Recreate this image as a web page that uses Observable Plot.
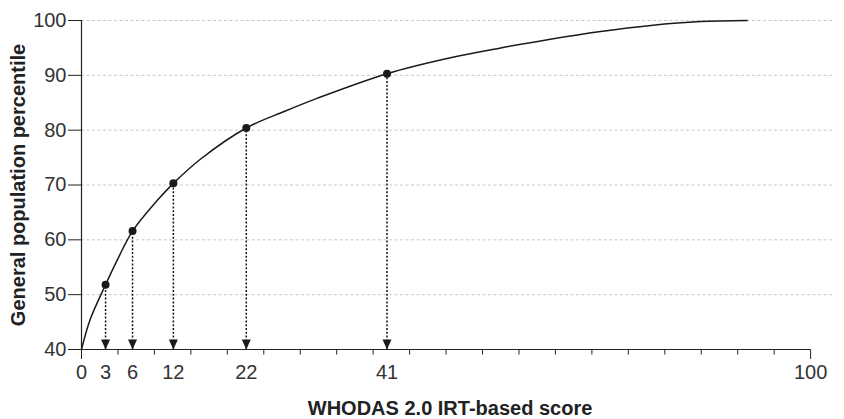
<!DOCTYPE html>
<html>
<head>
<meta charset="utf-8">
<script src="https://cdn.jsdelivr.net/npm/d3@7"></script>
<script src="https://cdn.jsdelivr.net/npm/@observablehq/plot@0.6"></script>
<style>
  html, body { margin: 0; padding: 0; background: #fff; }
  #chart svg { display: block; }
</style>
</head>
<body>
<div id="chart"></div>
<script>
// ---- data ----
const scoreLabels = ["3", "6", "12", "22", "41"];
const scoreX = [3.3, 7.0, 12.6, 22.6, 41.9];
const percentileY = [51.8, 61.6, 70.3, 80.4, 90.3];

const curveX = [0, 1.2, 3.3, 4.9, 7.0, 10.4, 12.6, 16.3, 22.6, 27.8, 32.3, 41.9, 50.6, 57.5, 64.3, 71.2, 78.1, 84.9, 91.3];
const curveY = [40, 45.5, 51.8, 56.3, 61.6, 67.2, 70.3, 74.7, 80.4, 83.4, 85.8, 90.3, 93.2, 95.0, 96.6, 98.0, 99.1, 99.8, 100];

const yTicks = [40, 50, 60, 70, 80, 90, 100];
const gridValues = [50, 60, 70, 80, 90, 100];
const xMinorTicks = d3.range(5, 100, 5);
const xEndTicks = [0, 100];
const xLabelValues = [0, ...scoreX, 100];
const xLabelTexts = ["0", ...scoreLabels, "100"];

const xTitle = "WHODAS 2.0 IRT-based score";
const yTitle = "General population percentile";

// ---- derived tables ----
const points = scoreX.map((x, i) => ({x, y: percentileY[i], label: scoreLabels[i]}));
const curve = curveX.map((x, i) => ({x, y: curveY[i]}));
const labelMap = new Map(xLabelValues.map((v, i) => [v, xLabelTexts[i]]));

const arrowHead = {
  draw(ctx) {
    ctx.moveTo(-4.5, -10);
    ctx.lineTo(4.5, -10);
    ctx.lineTo(0, 0);
    ctx.closePath();
  }
};

const tickFont = "'Liberation Sans', Arial, Helvetica, sans-serif";

const chart = Plot.plot({
  width: 844,
  height: 419,
  marginLeft: 81,
  marginRight: 12,
  marginTop: 20,
  marginBottom: 70,
  x: {domain: [0, 103]},
  y: {domain: [40, 100]},
  style: {fontFamily: tickFont, color: "#222", background: "#fff", overflow: "visible"},
  marks: [
    Plot.ruleY(gridValues, {x1: 0, x2: 103, stroke: "#c8c8c8", strokeDasharray: "3,2.5", strokeWidth: 1}),
    Plot.ruleY([40], {x1: 0, x2: 100, stroke: "#222", strokeWidth: 1.2}),
    Plot.ruleX([0], {y1: 40, y2: 100, stroke: "#222", strokeWidth: 1.2}),
    Plot.axisY(yTicks, {tickSize: 13, tickPadding: 2, fontSize: 20, fill: "#333", label: null}),
    Plot.axisX(xMinorTicks, {tickSize: 5.5, tickFormat: () => "", label: null}),
    Plot.axisX(xEndTicks, {tickSize: 10, tickFormat: () => "", label: null}),
    Plot.axisX(xLabelValues, {tickSize: 0, tickPadding: 15, fontSize: 20, fill: "#333", tickFormat: d => labelMap.get(d), label: null}),
    Plot.ruleX(points, {x: "x", y1: 40, y2: "y", stroke: "#111", strokeWidth: 1.5, strokeDasharray: "2,1.8"}),
    Plot.dot(points, {x: "x", y: () => 40, symbol: arrowHead, fill: "#1a1a1a", stroke: null}),
    Plot.line(curve, {x: "x", y: "y", curve: "catmull-rom", stroke: "#1a1a1a", strokeWidth: 1.5}),
    Plot.dot(points, {x: "x", y: "y", r: 4, fill: "#1a1a1a", stroke: null}),
    Plot.text([xTitle], {x: () => 50, y: () => 40, dx: 4, dy: 59, fontSize: 20, fontWeight: "bold", fill: "#222"}),
    Plot.text([yTitle], {frameAnchor: "left", textAnchor: "middle", rotate: -90, dx: -63, fontSize: 20, fontWeight: "bold", fill: "#222"})
  ]
});

document.getElementById("chart").appendChild(chart);
</script>
</body>
</html>
